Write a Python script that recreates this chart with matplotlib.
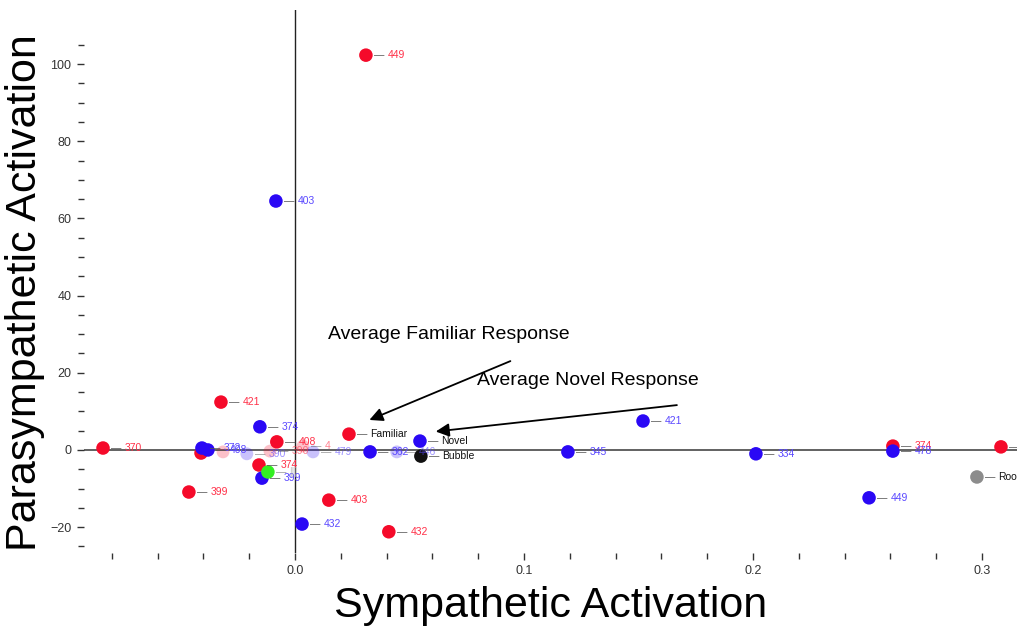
import matplotlib
matplotlib.use("Agg")
import matplotlib.pyplot as plt
from matplotlib.ticker import MultipleLocator, FixedLocator

plt.rcParams['font.family'] = ['Liberation Sans', 'DejaVu Sans']

RED = '#f50a2a'
BLUE = '#2a08f5'
RED_LBL = '#ff3048'
BLUE_LBL = '#5a48ff'

# Familiar (red) responses
red_x = [0.0310, -0.0323, -0.0838, -0.0079, -0.0157, -0.0463, 0.0148, 0.0410, -0.0410, 0.2611, 0.3083]
red_y = [102.3, 12.4, 0.5, 2.1, -3.9, -10.9, -13.0, -21.2, -0.8, 1.0, 0.8]
red_lbl = ['449', '421', '370', '408', '374', '399', '403', '432', '', '374', '421']

# Novel (blue) responses
blue_x = [-0.0083, -0.0153, -0.0144, 0.0031, 0.1520, 0.1192, 0.2013, 0.2507, 0.2611, -0.0406, -0.0380, 0.0328]
blue_y = [64.5, 6.0, -7.3, -19.2, 7.5, -0.5, -1.0, -12.4, -0.3, 0.5, 0.0, -0.5]
blue_lbl = ['403', '374', '399', '432', '421', '345', '334', '449', '478', '372', '408', '362']

# faint (semi-transparent) points
faint_x = [-0.0314, -0.0210, -0.0109, 0.0035, 0.0079, 0.0445]
faint_y = [-0.5, -1.0, -0.3, 1.0, -0.5, -0.5]
faint_c = ['r', 'b', 'r', 'r', 'b', 'b']
faint_lbl = ['', '390', '390', '4', '479', '446']

# averages / references
avg_name = ['Familiar', 'Novel', 'Bubble', 'Room']
avg_x = [0.0236, 0.0546, 0.0550, 0.2978]
avg_y = [4.1, 2.3, -1.6, -7.0]
avg_col = [RED, BLUE, '#111111', '#8c8c8c']

green_x = [-0.0118]
green_y = [-5.7]

y_major = [-20, 0, 20, 40, 60, 80, 100]
y_major_lbl = ['−20', '0', '20', '40', '60', '80', '100']
y_minor = [-25, -15, -10, -5, 5, 10, 15, 25, 30, 35, 45, 50, 55, 65, 70, 75, 85, 90, 95, 105]
x_major = [0.0, 0.1, 0.2, 0.3]
x_major_lbl = ['0.0', '0.1', '0.2', '0.3']

fig = plt.figure(figsize=(10.17, 6.26), dpi=100)
ax = fig.add_axes([84/1017, 1-553/626, (1017-84)/1017, (553-10)/626])
ax.set_xlim(-0.0921, 0.3153)
ax.set_ylim(-26.7, 114)
for s in ax.spines.values():
    s.set_visible(False)

ax.axhline(0, color='#555555', lw=1.3, zorder=1)
ax.axvline(0, color='#222222', lw=1.0, zorder=1)


def label(x, y, txt, col, alpha=1.0, weight='normal'):
    ax.annotate('—', (x, y), xytext=(6, 0), textcoords='offset points',
                va='center', ha='left', fontsize=7.5, color='#555555', alpha=alpha, zorder=4)
    ax.annotate(txt, (x, y), xytext=(15.5, 0), textcoords='offset points',
                va='center', ha='left', fontsize=7.5, color=col, alpha=alpha, zorder=4,
                fontweight=weight)

# faint points
for x, y, c, t in zip(faint_x, faint_y, faint_c, faint_lbl):
    col = RED if c == 'r' else BLUE
    ax.scatter([x], [y], s=85, color=col, alpha=0.25, edgecolors='none', zorder=2)
    if t:
        label(x, y, t, RED_LBL if c == 'r' else BLUE_LBL, alpha=0.6)

ax.scatter(red_x, red_y, s=95, color=RED, edgecolors='none', zorder=3)
for x, y, t in zip(red_x, red_y, red_lbl):
    if t:
        label(x, y, t, RED_LBL)

ax.scatter(blue_x, blue_y, s=95, color=BLUE, edgecolors='none', zorder=3)
for x, y, t in zip(blue_x, blue_y, blue_lbl):
    label(x, y, t, BLUE_LBL)

ax.scatter(green_x, green_y, s=95, color='#33ee22', edgecolors='none', zorder=3)
label(green_x[0], green_y[0], '|||', '#999999', alpha=0.6)

for n, x, y, c in zip(avg_name, avg_x, avg_y, avg_col):
    ax.scatter([x], [y], s=95, color=c, edgecolors='none', zorder=3)
    label(x, y, n, '#111111')

# Annotations
ax.text(0.0144, 29.8, 'Average Familiar Response', fontsize=14, va='center', ha='left')
ax.annotate('', xy=(0.0314, 7.5), xytext=(0.0952, 23.3),
            arrowprops=dict(arrowstyle='-|>', color='black', lw=1.3, mutation_scale=20))
ax.text(0.0795, 18.1, 'Average Novel Response', fontsize=14, va='center', ha='left')
ax.annotate('', xy=(0.0603, 4.7), xytext=(0.168, 11.7),
            arrowprops=dict(arrowstyle='-|>', color='black', lw=1.3, mutation_scale=20))

# ticks
ax.yaxis.set_major_locator(FixedLocator(y_major))
ax.yaxis.set_minor_locator(FixedLocator(y_minor))
ax.xaxis.set_major_locator(FixedLocator(x_major))
ax.xaxis.set_minor_locator(MultipleLocator(0.02))
ax.set_xticklabels(x_major_lbl)
ax.set_yticklabels(y_major_lbl)
ax.tick_params(axis='both', which='major', length=5, width=1, color='#333333',
               labelsize=9, labelcolor='#333333', pad=4)
ax.tick_params(axis='both', which='minor', length=4, width=1, color='#333333')

ax.set_xlabel('Sympathetic Activation', fontsize=31, labelpad=6)
ax.set_ylabel('Parasympathetic Activation', fontsize=31)
ax.yaxis.set_label_coords(-0.042, 0.48)

fig.savefig('out.png', dpi=100)
